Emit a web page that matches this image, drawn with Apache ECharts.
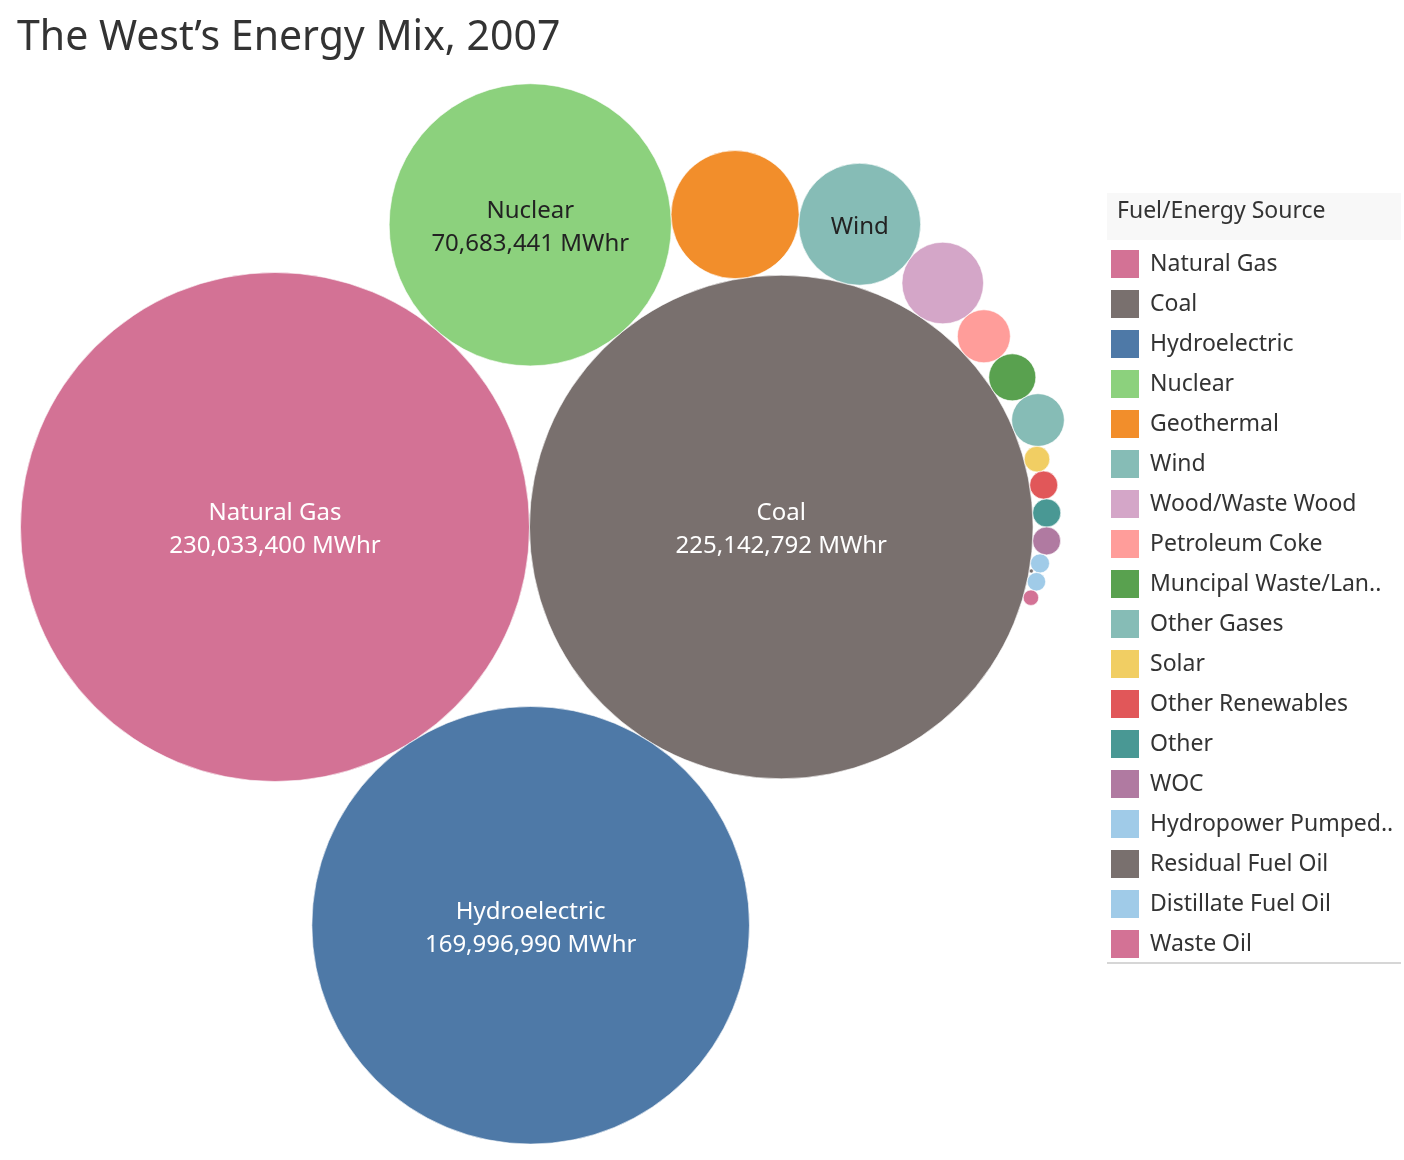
<!DOCTYPE html>
<html>
<head>
<meta charset="utf-8">
<title>The West's Energy Mix, 2007</title>
<script src="https://cdn.jsdelivr.net/npm/echarts@6/dist/echarts.min.js"></script>
<style>
  html, body { margin: 0; padding: 0; background: #fff; }
  #chart { width: 1404px; height: 1160px; }
</style>
</head>
<body>
<div id="chart"></div>
<script>
// fuel sources, in the order Tableau lists them
const sources = [
  'Natural Gas', 'Coal', 'Hydroelectric', 'Nuclear', 'Geothermal', 'Wind',
  'Wood/Waste Wood', 'Petroleum Coke', 'Muncipal Waste/Landfill Gas', 'Other Gases',
  'Solar', 'Other Renewables', 'Other', 'WOC', 'Hydropower Pumped Storage',
  'Residual Fuel Oil', 'Distillate Fuel Oil', 'Waste Oil'
]
// net generation, MWhr (small ones)
const mwhr = [
  230033400, 225142792, 169996990, 70683441, 14550000, 13200000,
  5910000, 2490000, 1960000, 2460000,
  582000, 696000, 700000, 690000, 320000,
  15000, 300000, 210000
]
const colors = [
  '#D37295', '#79706E', '#4E79A7', '#8CD17D', '#F28E2B', '#86BCB6',
  '#D4A6C8', '#FF9D9A', '#59A14F', '#86BCB6',
  '#F1CE63', '#E15759', '#499894', '#B07AA1', '#A0CBE8',
  '#79706E', '#A0CBE8', '#D37295'
]
// how many label lines fit in each bubble (0 none, 1 name, 2 name + value)
const labelLines = [2, 2, 2, 2, 0, 1, 0, 0, 0, 0, 0, 0, 0, 0, 0, 0, 0, 0]

const FONT = '"Noto Sans", "Open Sans", sans-serif'
const PX_PER_UNIT = 16.78          // screen pixels per layout unit
const ORIGIN = [275, 527]          // where the first bubble sits on screen

// circle with radius r touching both a and b -> two possible centres
function tangent(a, b, r) {
  const dx = b.x - a.x, dy = b.y - a.y
  const d = Math.hypot(dx, dy)
  const ra = a.r + r, rb = b.r + r
  const t = (ra * ra - rb * rb + d * d) / (2 * d)
  const h = Math.sqrt(Math.max(0, ra * ra - t * t))
  const ux = dx / d, uy = dy / d
  const px = a.x + ux * t, py = a.y + uy * t
  return [{ x: px - uy * h, y: py + ux * h }, { x: px + uy * h, y: py - ux * h }]
}

// packed bubble layout: two biggest side by side, next two under/over them,
// the rest chained clockwise round the second bubble
function packBubbles(values) {
  const c = values.map(v => ({ r: Math.sqrt(v) / 1000 }))
  c[0].x = 0; c[0].y = 0
  c[1].x = c[0].r + c[1].r; c[1].y = 0
  if (c.length > 2) Object.assign(c[2], tangent(c[0], c[1], c[2].r)[0])
  if (c.length > 3) Object.assign(c[3], tangent(c[0], c[1], c[3].r)[1])
  const hub = c[1]
  const ang = p => Math.atan2(p.y - hub.y, p.x - hub.x)
  for (let i = 4; i < c.length; i++) {
    const r = c[i].r
    const prev = ang(c[i - 1])
    let best = null, bestDelta = Infinity
    for (let j = 0; j < i; j++) {
      if (j === 1) continue
      tangent(c[j], hub, r).forEach(s => {
        for (let k = 0; k < i; k++) {
          if (Math.hypot(s.x - c[k].x, s.y - c[k].y) < c[k].r + r - 1e-6) return
        }
        let delta = ang(s) - prev
        while (delta <= 0) delta += Math.PI * 2
        if (delta < bestDelta) { bestDelta = delta; best = s }
      })
    }
    Object.assign(c[i], best)
  }
  return c
}

function inkFor(hex) {
  const n = parseInt(hex.slice(1), 16)
  const lum = 0.299 * (n >> 16) + 0.587 * ((n >> 8) & 255) + 0.114 * (n & 255)
  return lum > 160 ? '#222222' : '#ffffff'
}

const bubbles = packBubbles(mwhr)

let chart = echarts.init(document.getElementById('chart'))

const series = sources.map((name, i) => ({
  name: name,
  type: 'custom',
  coordinateSystem: 'cartesian2d',
  clip: false,
  itemStyle: { color: colors[i] },
  data: [[bubbles[i].x, bubbles[i].y, bubbles[i].r, mwhr[i]]],
  renderItem: function (params, api) {
    const p = api.coord([api.value(0), api.value(1)])
    const r = api.size([api.value(2), api.value(2)])[0]
    const children = [{
      type: 'circle',
      shape: { cx: p[0], cy: p[1], r: r },
      style: { fill: api.visual('color'), stroke: 'rgba(255,255,255,0.6)', lineWidth: 1 }
    }]
    if (labelLines[i] > 0) {
      let text = name
      if (labelLines[i] > 1) text += '\n' + api.value(3).toLocaleString('en-US') + ' MWhr'
      children.push({
        type: 'text',
        x: p[0], y: p[1] + 3,
        style: {
          text: text, fill: inkFor(colors[i]),
          fontSize: 24, fontFamily: FONT, lineHeight: 33,
          align: 'center', verticalAlign: 'middle'
        }
      })
    }
    return { type: 'group', children: children }
  }
}))

const option = {
  animation: false,
  backgroundColor: '#fff',
  title: {
    text: 'The West’s Energy Mix, 2007',
    left: 12, top: 13,
    textStyle: { fontSize: 41, fontWeight: 'normal', color: '#333', fontFamily: FONT }
  },
  grid: { left: 0, right: 0, top: 0, bottom: 0 },
  xAxis: {
    type: 'value', show: false,
    min: -ORIGIN[0] / PX_PER_UNIT, max: (1404 - ORIGIN[0]) / PX_PER_UNIT
  },
  yAxis: {
    type: 'value', show: false, inverse: true,
    min: -ORIGIN[1] / PX_PER_UNIT, max: (1160 - ORIGIN[1]) / PX_PER_UNIT
  },
  legend: {
    orient: 'vertical',
    left: 1111, top: 250, padding: 0,
    itemWidth: 28, itemHeight: 28, itemGap: 12,
    icon: 'rect',
    selectedMode: false,
    data: sources,
    textStyle: {
      fontSize: 23, color: '#333', fontFamily: FONT,
      width: 245, overflow: 'truncate', ellipsis: '..',
      padding: [0, 0, 0, 6]
    }
  },
  graphic: [
    {
      type: 'rect', left: 1107, top: 193, z: -1,
      shape: { width: 294, height: 47 },
      style: { fill: '#f8f8f8' }
    },
    {
      type: 'text', left: 1117, top: 200,
      style: { text: 'Fuel/Energy Source', fontSize: 23, fontFamily: FONT, fill: '#333' }
    },
    {
      type: 'line',
      shape: { x1: 1107, y1: 963, x2: 1401, y2: 963 },
      style: { stroke: '#d6d6d6', lineWidth: 2 }
    }
  ],
  series: series
}

chart.setOption(option)
</script>
</body>
</html>
